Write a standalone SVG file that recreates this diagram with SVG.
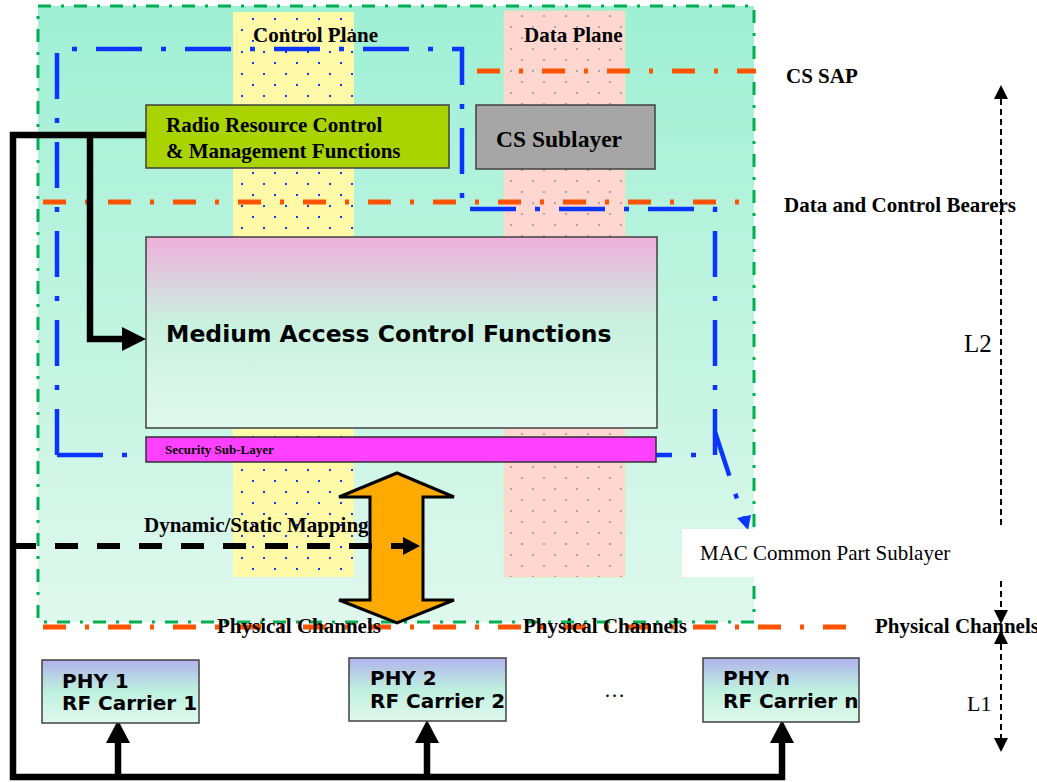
<svg xmlns="http://www.w3.org/2000/svg" width="1037" height="782" viewBox="0 0 1037 782">
<defs>
<linearGradient id="gBg" x1="0" y1="0" x2="0" y2="1">
<stop offset="0" stop-color="#9ef0d4"/><stop offset="1" stop-color="#e0f8ee"/>
</linearGradient>
<linearGradient id="gMac" x1="0" y1="0" x2="0" y2="1">
<stop offset="0" stop-color="#efb0db"/><stop offset="0.45" stop-color="#c9f1df"/><stop offset="1" stop-color="#e0f8ee"/>
</linearGradient>
<linearGradient id="gPhy" x1="0" y1="0" x2="0" y2="1">
<stop offset="0" stop-color="#b0b3ec"/><stop offset="0.5" stop-color="#bff0df"/><stop offset="1" stop-color="#e0f8ee"/>
</linearGradient>
<pattern id="pBlue" patternUnits="userSpaceOnUse" x="242" y="8" width="22" height="22">
<rect x="-1" y="-1" width="2" height="2" fill="#1038ff"/><rect x="21" y="-1" width="2" height="2" fill="#1038ff"/><rect x="-1" y="21" width="2" height="2" fill="#1038ff"/><rect x="21" y="21" width="2" height="2" fill="#1038ff"/>
<rect x="10" y="10" width="2" height="2" fill="#1038ff"/>
</pattern>
<pattern id="pGray" patternUnits="userSpaceOnUse" x="511" y="5" width="22" height="22">
<rect x="-1" y="-1" width="2" height="2" fill="#a8a8a8"/><rect x="21" y="-1" width="2" height="2" fill="#a8a8a8"/><rect x="-1" y="21" width="2" height="2" fill="#a8a8a8"/><rect x="21" y="21" width="2" height="2" fill="#a8a8a8"/>
<rect x="10" y="10" width="2" height="2" fill="#a8a8a8"/>
</pattern>
</defs>
<style>
.tb{font-family:"Liberation Serif","Times New Roman",serif;font-weight:bold;font-size:21px;fill:#000}
.tr{font-family:"Liberation Serif","Times New Roman",serif;font-size:21px;fill:#000}
.ts{font-family:"DejaVu Sans",Verdana,sans-serif;font-weight:bold;fill:#000}
.blue{fill:none;stroke:#0a35ff;stroke-width:4.5;stroke-dasharray:46 19 5 19}
.orange{fill:none;stroke:#ff5300;stroke-width:5;stroke-dasharray:23 19 4 19}
.box{stroke:#404040;stroke-width:1.5}
.blk{fill:none;stroke:#000;stroke-width:6.5}
.dash{fill:none;stroke:#000;stroke-width:2;stroke-dasharray:6 4}
</style>

<g id="background">
<rect x="38" y="6" width="716" height="616" fill="url(#gBg)"/>
<rect x="233" y="12" width="121" height="565" fill="#fffaa8"/>
<rect x="233" y="12" width="121" height="565" fill="url(#pBlue)"/>
<rect x="504" y="11" width="121" height="566" fill="#ffd6d0" stroke="#f4e79a" stroke-width="1" stroke-dasharray="2 2"/>
<rect x="504" y="11" width="121" height="566" fill="url(#pGray)"/>
<rect x="38" y="6" width="716" height="616" fill="none" stroke="#00b050" stroke-width="3" stroke-dasharray="13 10 3 10"/>
</g>

<g id="boundaries">
<path class="blue" d="M57,455 L57,49 L462,49 L462,209 L715,209 L715,455 L656,455"/>
<path class="blue" d="M57,455 L146,455"/>
<path class="blue" d="M715,432 L744,520"/>
<polygon points="748,530 737,518 751,515" fill="#0a35ff"/>
<path class="orange" d="M477,71 L756,71"/>
<path class="orange" d="M43,202 L754,202"/>
<path class="orange" d="M43,627 L860,627"/>
</g>

<g id="labels-planes">
<text class="tb" x="253" y="42">Control Plane</text>
<text class="tb" x="524" y="42">Data Plane</text>
</g>

<g id="rrc">
<rect class="box" x="146" y="105" width="303" height="63" fill="#aad400"/>
<text class="tb" x="166" y="132">Radio Resource Control</text>
<text class="tb" x="166" y="158">&amp; Management Functions</text>
</g>

<g id="cs-sublayer">
<rect class="box" x="476" y="105" width="179" height="64" fill="#a6a6a6"/>
<text class="tb" x="496" y="147" style="font-size:23.5px">CS Sublayer</text>
</g>

<g id="mac">
<rect class="box" x="146" y="237" width="511" height="191" fill="url(#gMac)"/>
<text class="ts" x="166" y="342" style="font-size:23.5px">Medium Access Control Functions</text>
</g>

<g id="security">
<rect x="146" y="437" width="510" height="25" fill="#ff40ff" stroke="#303030" stroke-width="1.5"/>
<text class="tb" x="165" y="454" style="font-size:13px">Security Sub-Layer</text>
</g>

<g id="mapping-arrow">
<polygon points="397,473 454,497 423,497 423,600 454,600 397,623 339,600 370,600 370,497 339,497" fill="#ffaa00" stroke="#000" stroke-width="3" stroke-linejoin="miter"/>
</g>

<g id="mac-cps">
<rect x="682" y="529" width="330" height="48" fill="#fff"/>
<text class="tr" x="700" y="560">MAC Common Part Sublayer</text>
</g>

<g id="connectors">
<path class="blk" d="M146,135 L13,135 L13,777 L782,777 L782,742" stroke-linejoin="miter"/>
<path class="blk" d="M118,777 L118,742 M427,777 L427,742 M90,135 L90,339 L124,339"/>
<polygon points="106,743 130,743 118,720" fill="#000"/>
<polygon points="415,743 439,743 427,720" fill="#000"/>
<polygon points="770,743 794,743 782,720" fill="#000"/>
<polygon points="122,327 146,339 122,351" fill="#000"/>
<path d="M13,546 L403,546" fill="none" stroke="#000" stroke-width="6" stroke-dasharray="23 19"/>
<polygon points="403,537 420,546 403,555" fill="#000"/>
<path class="dash" d="M1001,99 L1001,527 M1001,581 L1001,610"/>
<polygon points="1001,85 994,99 1008,99" fill="#000"/>
<polygon points="1001,624 994,610 1008,610" fill="#000"/>
<path class="dash" d="M1001,644 L1001,738"/>
<polygon points="1001,630 994,644 1008,644" fill="#000"/>
<polygon points="1001,752 994,738 1008,738" fill="#000"/>
</g>

<g id="side-labels">
<text class="tb" x="786" y="83">CS SAP</text>
<text class="tb" x="784" y="212">Data and Control Bearers</text>
<text class="tb" x="144" y="532">Dynamic/Static Mapping</text>
<text class="tb" x="217" y="633">Physical Channels</text>
<text class="tb" x="523" y="633">Physical Channels</text>
<text class="tb" x="875" y="633">Physical Channels</text>
<text class="tr" x="964" y="352" style="font-size:25px">L2</text>
<text class="tr" x="967" y="711" style="font-size:22px">L1</text>
<text class="tr" x="604" y="697">…</text>
</g>

<g id="phy1">
<rect class="box" x="42" y="660" width="157" height="63" fill="url(#gPhy)"/>
<text class="ts" x="62" y="688" style="font-size:20px">PHY 1</text>
<text class="ts" x="62" y="710" style="font-size:20px">RF Carrier 1</text>
</g>
<g id="phy2">
<rect class="box" x="349" y="658" width="157" height="63" fill="url(#gPhy)"/>
<text class="ts" x="370" y="685" style="font-size:20px">PHY 2</text>
<text class="ts" x="370" y="708" style="font-size:20px">RF Carrier 2</text>
</g>
<g id="phyn">
<rect class="box" x="703" y="658" width="156" height="64" fill="url(#gPhy)"/>
<text class="ts" x="723" y="685" style="font-size:20px">PHY n</text>
<text class="ts" x="723" y="708" style="font-size:20px">RF Carrier n</text>
</g>
</svg>
